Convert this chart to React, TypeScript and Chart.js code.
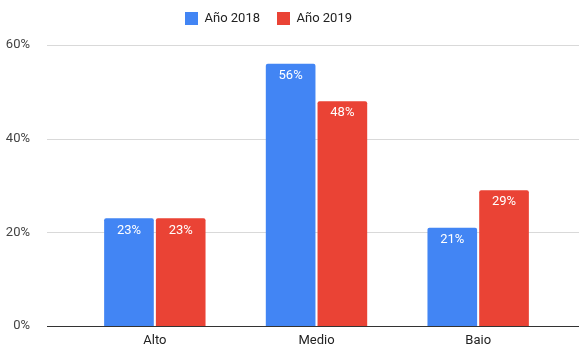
import React, { useEffect, useRef } from "react";
import { Chart, registerables } from "chart.js";

Chart.register(...registerables);

const categories = ["Alto", "Medio", "Baio"];
const seriesNames = ["Año 2018", "Año 2019"];
const values2018 = [23, 56, 21];
const values2019 = [23, 48, 29];
const yTicks = [0, 20, 40, 60];
const colors = ["#4285F4", "#EA4335"];

const gridPlugin = {
  id: "wideGrid",
  beforeLayout(chart: any) {
    const lg = chart.legend;
    if (lg && !lg._patched) {
      const orig = lg.fit.bind(lg);
      lg.fit = function () {
        orig();
        this.height += 10;
      };
      lg._patched = true;
    }
  },
  afterLayout(chart: any) {
    const lg = chart.legend;
    if (lg) {
      lg.left -= 11;
      lg.right -= 11;
    }
  },
  beforeDatasetsDraw(chart: any) {
    const { ctx, scales } = chart;
    const y = scales.y;
    ctx.save();
    yTicks.forEach((t) => {
      const py = Math.round(y.getPixelForValue(t)) + 0.5;
      ctx.beginPath();
      ctx.strokeStyle = t === 0 ? "#333333" : "#d9d9d9";
      ctx.lineWidth = 1;
      ctx.moveTo(47, py);
      ctx.lineTo(chart.width, py);
      ctx.stroke();
    });
    ctx.restore();
  },
  afterDatasetsDraw(chart: any) {
    const { ctx } = chart;
    ctx.save();
    ctx.fillStyle = "#ffffff";
    ctx.font = "13px Roboto";
    ctx.textAlign = "center";
    ctx.textBaseline = "middle";
    chart.data.datasets.forEach((ds: any, di: number) => {
      const meta = chart.getDatasetMeta(di);
      meta.data.forEach((bar: any, i: number) => {
        ctx.fillText(ds.data[i] + "%", bar.x, bar.y + 12);
      });
    });
    ctx.restore();
  },
};

export default function App() {
  const ref = useRef<HTMLCanvasElement>(null);
  useEffect(() => {
    document.body.style.margin = "0";
    const chart = new Chart(ref.current!, {
      type: "bar",
      data: {
        labels: categories,
        datasets: [
          { label: seriesNames[0], data: values2018, backgroundColor: colors[0], borderRadius: { topLeft: 2, topRight: 2 }, borderSkipped: "bottom" },
          { label: seriesNames[1], data: values2019, backgroundColor: colors[1], borderRadius: { topLeft: 2, topRight: 2 }, borderSkipped: "bottom" },
        ],
      },
      options: {
        animation: false,
        responsive: true,
        maintainAspectRatio: false,
        devicePixelRatio: 1,
        layout: { padding: { top: -5, right: 20, left: 0, bottom: 0 } },
        categoryPercentage: 0.64,
        barPercentage: 0.96,
        plugins: {
          legend: {
            display: true,
            position: "top",
            labels: {
              boxWidth: 13,
              boxHeight: 13,
              padding: 17,
              color: "#222222",
              font: { family: "Roboto", size: 13 },
            },
          },
          tooltip: { enabled: false },
        },
        scales: {
          x: {
            grid: { display: false, tickLength: 6 },
            border: { display: false },
            ticks: { color: "#222222", font: { family: "Roboto", size: 13 }, padding: 1 },
            afterFit: (s: any) => { s.height = 19; },
          },
          y: {
            min: 0,
            max: 60,
            grid: { display: false },
            border: { display: false },
            afterFit: (s: any) => {
              s.width = 74;
              s.paddingTop = 8;
              s.paddingBottom = 8;
            },
            afterBuildTicks: (s: any) => { s.ticks = yTicks.map((v) => ({ value: v })); },
            ticks: {
              color: "#444444",
              font: { family: "Roboto", size: 13 },
              padding: 36,
              callback: (v: any) => v + "%",
            },
          },
        },
      } as any,
      plugins: [gridPlugin],
    });
    return () => chart.destroy();
  }, []);
  return (
    <div style={{ position: "absolute", left: 0, top: 0, width: 579, height: 345 }}>
      <canvas ref={ref} />
    </div>
  );
}
